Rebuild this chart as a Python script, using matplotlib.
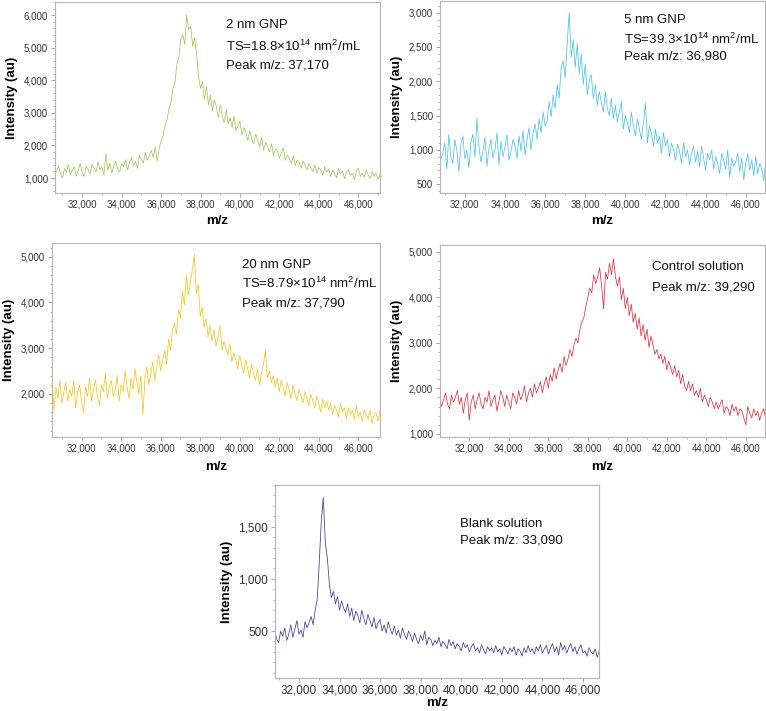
import numpy as np
import matplotlib
matplotlib.use("Agg")
import matplotlib.pyplot as plt
from matplotlib.ticker import FuncFormatter, MultipleLocator, AutoMinorLocator

plt.rcParams['font.family'] = ['Liberation Sans', 'DejaVu Sans']
plt.rcParams['mathtext.fontset'] = 'custom'
plt.rcParams['mathtext.rm'] = 'Liberation Sans'

# m/z grid: 30,500 .. 47,100 in steps of 100
mz = np.arange(30500, 47101, 100)

gnp_2nm = [
    1300, 1050, 1220, 1380, 1120, 1000, 1290, 1180, 1410, 1090,
    1250, 1340, 1060, 1230, 1450, 1150, 1050, 1370, 1260, 1120,
    1420, 1300, 1180, 1500, 1250, 1350, 1080, 1750, 1240, 1460,
    1150, 1380, 1520, 1270, 1190, 1440, 1340, 1560, 1250, 1480,
    1620, 1390, 1510, 1300, 1700, 1580, 1450, 1790, 1550, 1680,
    1850, 1620, 1960, 1520, 1900, 2150, 2280, 2600, 2780, 3150,
    3300, 3750, 3900, 4500, 4700, 5250, 5400, 5100, 6000, 5550,
    5650, 5050, 5300, 4800, 4100, 3750, 3950, 3400, 3800, 3250,
    3550, 3050, 3400, 3200, 2850, 3250, 2900, 2700, 3100, 2650,
    2850, 2550, 2900, 2450, 2600, 2750, 2300, 2550, 2400, 2150,
    2450, 2200, 2050, 2350, 2150, 1950, 2250, 1850, 2100, 1950,
    1800, 2050, 1700, 1900, 1850, 1600, 1780, 1920, 1550, 1700,
    1620, 1450, 1680, 1380, 1550, 1480, 1300, 1520, 1400, 1250,
    1450, 1300, 1200, 1400, 1150, 1320, 1250, 1080, 1350, 1180,
    1280, 1050, 1230, 1150, 1000, 1300, 1120, 1220, 980, 1180,
    1250, 1080, 1150, 950, 1220, 1300, 1050, 1150, 1020, 1250,
    1100, 980, 1200, 1050, 1150, 950, 1100,
]

gnp_5nm = [
    1000, 700, 1180, 850, 950, 1100, 720, 1220, 900, 800,
    1150, 980, 680, 1080, 1200, 870, 1000, 740, 1100, 1230,
    900, 1460, 1050, 820, 980, 1180, 760, 1020, 1150, 880,
    1000, 1250, 780, 1120, 900, 1050, 1220, 850, 980, 1150,
    1050, 880, 1200, 980, 1280, 920, 1150, 1320, 1000, 1250,
    1380, 1150, 1450, 1250, 1550, 1350, 1420, 1700, 1480, 1800,
    1600, 1950, 1750, 2200, 2300, 2050, 2550, 3000, 2350, 2600,
    2200, 2550, 2100, 2400, 1950, 2250, 1800, 2000, 2100, 1750,
    1950, 1650, 1850, 1700, 1550, 1850, 1600, 1500, 1750, 1450,
    1650, 1400, 1550, 1700, 1300, 1500, 1400, 1250, 1550, 1350,
    1200, 1450, 1300, 1150, 1400, 1680, 1100, 1350, 1250, 1050,
    1300, 1100, 1200, 950, 1250, 1050, 1150, 900, 1100, 1000,
    850, 1080, 980, 800, 1100, 900, 1000, 780, 950, 1050,
    820, 980, 750, 1050, 880, 700, 950, 850, 1000, 720,
    900, 800, 650, 950, 850, 720, 1000, 600, 880, 760,
    820, 950, 680, 880, 560, 800, 950, 700, 850, 620,
    900, 650, 800, 720, 550, 820, 700,
]

gnp_20nm = [
    2450, 1650, 2150, 1900, 2300, 1800, 2050, 2250, 1850, 2100,
    1950, 2300, 1700, 2050, 2200, 1800, 1600, 2150, 1950, 2350,
    1850, 2100, 2300, 1950, 1750, 2200, 2050, 2450, 1900, 2150,
    2300, 1950, 2100, 2400, 1850, 2200, 2050, 2500, 2150, 1900,
    2350, 2100, 2550, 2250, 2000, 2400, 1550, 2300, 2600, 2200,
    2450, 2700, 2300, 2600, 2850, 2500, 2750, 2950, 2650, 3200,
    2950, 3400, 3550, 3300, 3850, 3650, 4250, 3950, 4600, 4150,
    4450, 4700, 5050, 4200, 4400, 3700, 3900, 3450, 3650, 3250,
    3500, 3150, 3400, 3050, 3250, 3500, 2950, 3150, 3000, 2850,
    3100, 2700, 2900, 2750, 2550, 2850, 2650, 2450, 2750, 2550,
    2350, 2650, 2450, 2300, 2550, 2200, 2450, 2650, 2950, 2350,
    2500, 2250, 2400, 2150, 2350, 2050, 2300, 2150, 1950, 2250,
    2100, 1900, 2200, 2000, 1850, 2100, 1950, 1800, 2050, 1900,
    1750, 2000, 1850, 1700, 1950, 1800, 1600, 1900, 1700, 1850,
    1650, 1800, 1550, 1750, 1650, 1500, 1800, 1600, 1700, 1450,
    1700, 1550, 1650, 1450, 1750, 1500, 1600, 1400, 1650, 1550,
    1450, 1650, 1350, 1550, 1600, 1400, 1650,
]

control = [
    1800, 1600, 1750, 1900, 1650, 1550, 1850, 1700, 1800, 1950,
    1650, 1800, 1450, 1750, 1900, 1300, 1700, 1850, 1550, 1750,
    1900, 1650, 1550, 1800, 1700, 1950, 1600, 1750, 1850, 1500,
    1700, 1950, 1800, 1600, 1850, 1700, 1550, 1900, 1800, 1650,
    1950, 1750, 1850, 2050, 1700, 1900, 2000, 1800, 2100, 1900,
    2000, 2150, 1900, 2100, 2250, 2000, 2300, 2150, 2450, 2200,
    2400, 2550, 2350, 2700, 2500, 2650, 2850, 2700, 2950, 3100,
    3000, 3300, 3450, 3550, 3800, 4000, 4200, 4100, 4500, 4300,
    4450, 4650, 4250, 3750, 4550, 4400, 4750, 4500, 4850, 4450,
    4250, 4450, 3950, 4200, 3750, 4000, 3600, 3850, 3450, 3650,
    3300, 3550, 3150, 3400, 3050, 3300, 2900, 3150, 2950, 2750,
    2850, 2650, 2750, 2550, 2700, 2400, 2600, 2450, 2300, 2500,
    2250, 2400, 2100, 2300, 2050, 1950, 2150, 1950, 2100, 1850,
    1950, 1800, 2000, 1700, 1850, 1750, 1600, 1800, 1700, 1550,
    1700, 1550, 1650, 1750, 1450, 1600, 1550, 1400, 1650, 1500,
    1600, 1400, 1550, 1500, 1350, 1200, 1600, 1450, 1350, 1550,
    1400, 1500, 1300, 1450, 1550, 1350, 1450,
]

blank = [
    480, 400, 460, 520, 420, 390, 500, 450, 530, 410,
    470, 560, 440, 520, 600, 470, 510, 440, 590, 530,
    580, 640, 560, 700, 800, 1150, 1550, 1780, 1350, 1200,
    950, 820, 880, 760, 830, 700, 790, 720, 680, 760,
    640, 720, 600, 690, 650, 580, 700, 620, 560, 660,
    600, 540, 630, 520, 580, 610, 500, 560, 480, 590,
    520, 470, 550, 460, 510, 430, 530, 470, 420, 500,
    460, 400, 480, 420, 380, 460, 410, 500, 370, 440,
    420, 360, 410, 380, 440, 350, 400, 370, 330, 420,
    360, 400, 330, 380, 350, 310, 390, 340, 370, 300,
    350, 380, 310, 340, 290, 370, 320, 280, 350, 310,
    340, 290, 360, 300, 330, 270, 350, 320, 280, 340,
    300, 350, 270, 330, 310, 260, 340, 290, 360, 300,
    330, 280, 350, 310, 370, 290, 330, 360, 280, 340,
    380, 300, 350, 270, 390, 320, 360, 290, 340, 380,
    300, 350, 280, 330, 370, 290, 310, 260, 340, 300,
    280, 330, 250, 310, 290, 220, 300,
]

series = [gnp_2nm, gnp_5nm, gnp_20nm, control, blank]
colors = ['#9acb55', '#4cc3ee', '#f8c51c', '#e6303c', '#3d3f95']
labels = [
    ['2 nm GNP', r'TS=18.8×10$^{14}$ nm$^{2}$/mL', 'Peak m/z: 37,170'],
    ['5 nm GNP', r'TS=39.3×10$^{14}$ nm$^{2}$/mL', 'Peak m/z: 36,980'],
    ['20 nm GNP', r'TS=8.79×10$^{14}$ nm$^{2}$/mL', 'Peak m/z: 37,790'],
    ['Control solution', 'Peak m/z: 39,290'],
    ['Blank solution', 'Peak m/z: 33,090'],
]

W, H = 766, 711
# axes boxes in pixels: left, top, right, bottom
boxes = [(55, 2, 380, 193), (440, 1, 765, 193), (52, 243, 380, 437),
         (440, 245, 765, 437), (275, 485, 599, 678)]
xlims = [(30620, 47100), (30760, 46960), (30500, 47100), (30520, 46970), (30820, 46790)]
ylims = [(540, 6400), (370, 3170), (1060, 5300), (930, 5150), (50, 1900)]
ysteps = [1000, 500, 1000, 1000, 500]
xpads = [4, 4, 5, 5, 0]
tick_sizes = [7, 7, 7, 7, 8.5]
text_pos = [(0.526, [0.88, 0.77, 0.67]), (0.567, [0.90, 0.80, 0.71]),
            (0.58, [0.885, 0.79, 0.69]), (0.653, [0.885, 0.78]),
            (0.57, [0.80, 0.71])]

fig = plt.figure(figsize=(W / 100, H / 100), dpi=100)
fmt = FuncFormatter(lambda v, p: '{:,.0f}'.format(v))

for k in range(5):
    l, t, r, b = boxes[k]
    ax = fig.add_axes([l / W, 1 - b / H, (r - l) / W, (b - t) / H])
    ax.plot(mz, series[k], color=colors[k], lw=0.55)
    ax.set_xlim(*xlims[k])
    ax.set_ylim(*ylims[k])
    ax.xaxis.set_major_locator(MultipleLocator(2000))
    ax.xaxis.set_minor_locator(AutoMinorLocator(2))
    ax.yaxis.set_major_locator(MultipleLocator(ysteps[k]))
    ax.yaxis.set_minor_locator(AutoMinorLocator(5))
    ax.xaxis.set_major_formatter(fmt)
    ax.yaxis.set_major_formatter(fmt)
    ax.tick_params(which='both', direction='out', color='#999999',
                   labelsize=tick_sizes[k], labelcolor='#333333', pad=2)
    ax.tick_params(which='major', length=3, width=0.6)
    ax.tick_params(which='minor', length=1.5, width=0.5)
    for s in ax.spines.values():
        s.set_color('#b5b5b5')
        s.set_linewidth(0.8)
    ax.set_xlabel('m/z', fontsize=9.5, fontweight='bold', labelpad=xpads[k])
    ax.set_ylabel('Intensity (au)', fontsize=9.5, fontweight='bold', labelpad=4)
    tx, tys = text_pos[k]
    for line, ty in zip(labels[k], tys):
        ax.text(tx, ty, line, transform=ax.transAxes, fontsize=9.5,
                va='center', ha='left', color='#111111')

fig.savefig('out.png', dpi=100)
